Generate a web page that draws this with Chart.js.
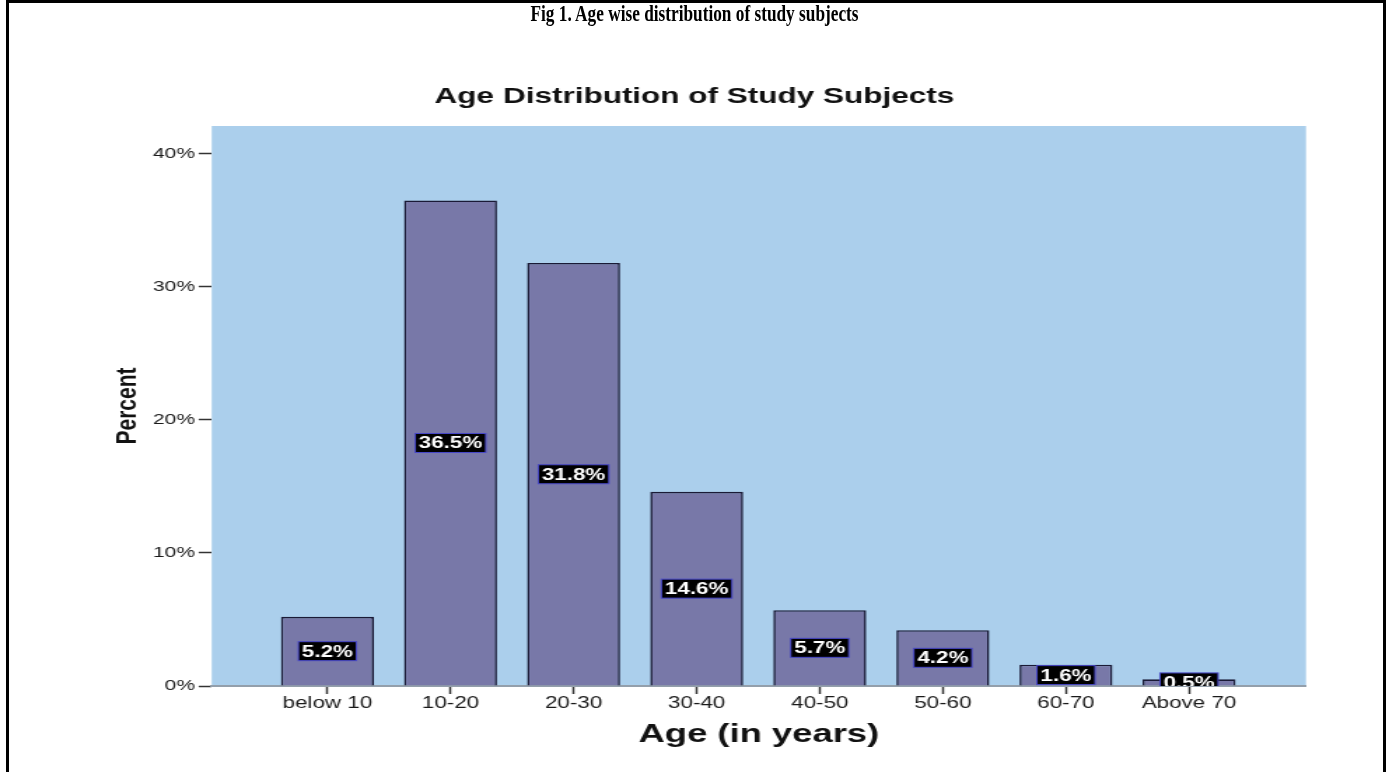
<!DOCTYPE html>
<html><head><meta charset="utf-8">
<script src="https://cdn.jsdelivr.net/npm/chart.js@4/dist/chart.umd.min.js"></script>
<style>
html,body{margin:0;padding:0;background:#fff;width:1389px;height:772px;overflow:hidden;}
#frame{position:absolute;left:6px;top:0px;width:1380px;height:820px;border:3px solid #000;box-sizing:border-box;}
#caption{position:absolute;left:0;top:1px;width:1389px;text-align:center;line-height:26px;color:#000;}
#caption span{display:inline-block;font:bold 23px 'Liberation Serif','Times New Roman',serif;transform-origin:50% 50%;white-space:nowrap;}
#c{position:absolute;left:0;top:0;}
</style></head><body>
<div id="frame"></div>
<canvas id="c" width="992" height="772" style="width:1389px;height:772px;"></canvas>
<div id="caption"><span id="capText">Fig 1. Age wise distribution of study subjects</span></div>
<script>
const categories = ['below 10', '10-20', '20-30', '30-40', '40-50', '50-60', '60-70', 'Above 70'];
const percentValues = [5.2, 36.5, 31.8, 14.6, 5.7, 4.2, 1.6, 0.5];
const yTickValues = [0, 10, 20, 30, 40];
const chartTitle = 'Age Distribution of Study Subjects';
const xAxisTitle = 'Age (in years)';
const yAxisTitle = 'Percent';

// condensed caption, as in the reference
(function () {
  const s = document.getElementById('capText');
  const w = s.getBoundingClientRect().width;
  s.style.transform = 'scaleX(' + (328 / w) + ')';
})();

const SANS = "'Liberation Sans', Arial, sans-serif";
Chart.defaults.font.family = SANS;

const plotBackground = {
  id: 'plotBackground',
  beforeDraw(chart) {
    const {ctx, chartArea: a} = chart;
    ctx.save();
    ctx.fillStyle = '#abcfec';
    ctx.fillRect(a.left, a.top, a.right - a.left, a.bottom - a.top);
    ctx.restore();
  }
};

const barLabels = {
  id: 'barLabels',
  afterDatasetsDraw(chart) {
    const {ctx, chartArea: a} = chart;
    const meta = chart.getDatasetMeta(0);
    ctx.save();
    ctx.beginPath();
    ctx.rect(a.left, a.top, a.right - a.left, a.bottom - a.top);
    ctx.clip();
    ctx.font = 'bold 16px ' + SANS;
    ctx.textAlign = 'center';
    ctx.textBaseline = 'middle';
    meta.data.forEach((bar, i) => {
      const p = bar.getProps(['x', 'y', 'base'], true);
      const cy = (p.y + p.base) / 2;
      const txt = percentValues[i].toFixed(1) + '%';
      const w = ctx.measureText(txt).width + 5;
      const h = 19;
      ctx.fillStyle = '#000';
      ctx.fillRect(p.x - w / 2, cy - h / 2, w, h);
      ctx.strokeStyle = '#4848c8';
      ctx.lineWidth = 1;
      ctx.strokeRect(p.x - w / 2, cy - h / 2, w, h);
      ctx.fillStyle = '#fff';
      ctx.fillText(txt, p.x, cy + 1);
    });
    ctx.restore();
  }
};

new Chart(document.getElementById('c'), {
  type: 'bar',
  data: {
    datasets: [{
      data: categories.map((c, i) => ({x: i, y: percentValues[i]})),
      backgroundColor: '#7878a8',
      borderColor: '#1a1a36',
      borderWidth: 1.6,
      categoryPercentage: 1,
      barPercentage: 0.755
    }]
  },
  options: {
    responsive: false,
    maintainAspectRatio: false,
    devicePixelRatio: 1,
    animation: false,
    layout: {padding: {left: 59.3, right: 59.3, top: 0, bottom: 0}},
    plugins: {
      legend: {display: false},
      tooltip: {enabled: false},
      title: {
        display: true,
        text: chartTitle,
        color: '#111',
        font: {size: 22.5, weight: 'bold', family: SANS},
        padding: {top: 83.5, bottom: 15.5}
      }
    },
    scales: {
      x: {
        type: 'linear',
        offset: false,
        min: -0.94,
        max: 7.95,
        afterFit(s) { s.height = 86; },
        afterBuildTicks(s) { s.ticks = categories.map((c, i) => ({value: i})); },
        ticks: {
          autoSkip: false,
          maxRotation: 0,
          padding: 0,
          color: '#1a1a1a',
          font: {size: 16},
          callback: (v) => categories[v]
        },
        grid: {offset: false, drawOnChartArea: false, drawTicks: true, tickLength: 8, tickColor: '#333', tickWidth: 1.5},
        border: {display: true, color: '#939fab', width: 2},
        title: {
          display: true,
          text: xAxisTitle,
          color: '#111',
          font: {size: 26, weight: 'bold'},
          padding: {top: 0, bottom: 21.4}
        }
      },
      y: {
        min: 0,
        max: 42.1,
        afterFit(s) { s.width = 91.9; },
        afterBuildTicks(s) { s.ticks = yTickValues.map(v => ({value: v})); },
        ticks: {
          padding: 2.6,
          color: '#1a1a1a',
          font: {size: 15},
          callback: (v) => v + '%'
        },
        grid: {drawOnChartArea: false, drawTicks: true, tickLength: 9.3, tickColor: '#333', tickWidth: 1.5},
        border: {display: false},
        title: {
          display: true,
          text: yAxisTitle,
          color: '#111',
          font: {size: 21, weight: 'bold'},
          padding: {top: 19.5, bottom: 0}
        }
      }
    }
  },
  plugins: [plotBackground, barLabels]
});
</script>
</body></html>
